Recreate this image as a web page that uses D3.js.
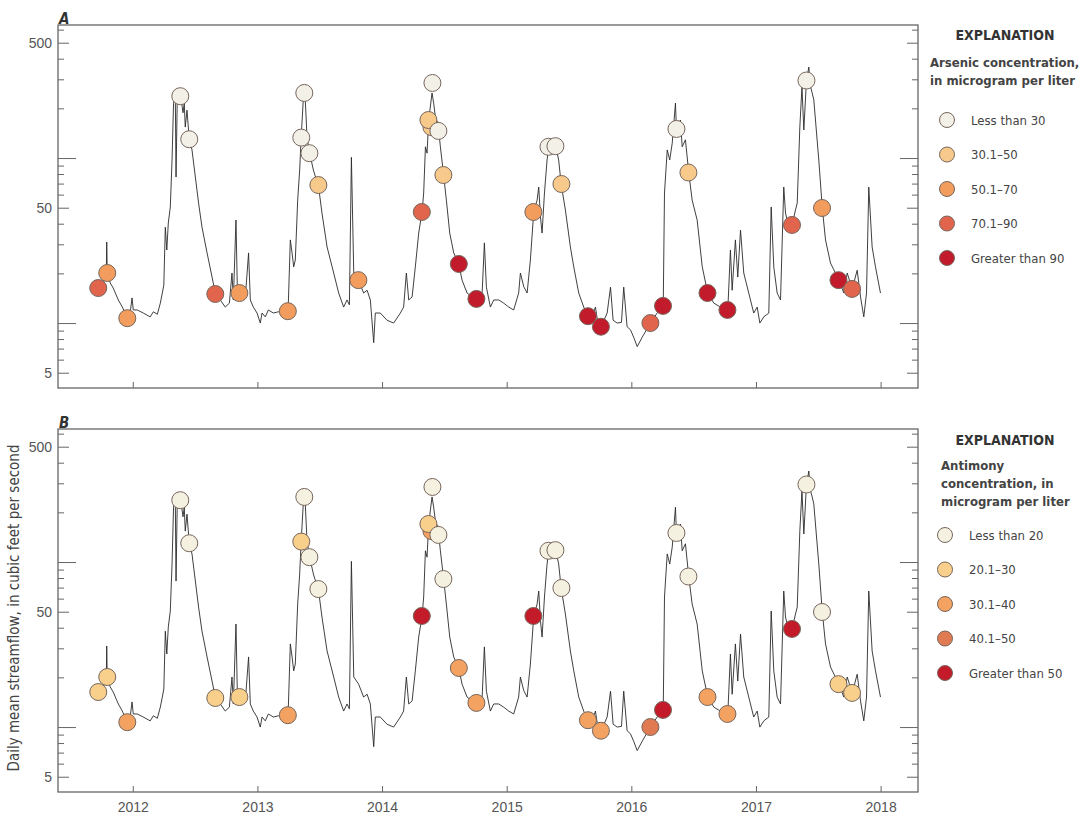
<!DOCTYPE html>
<html>
<head>
<meta charset="utf-8">
<script src="https://cdn.jsdelivr.net/npm/d3@7"></script>
<style>
  body { margin: 0; background: #fff; }
  svg { display: block; font-family: "Liberation Sans Narrow", "DejaVu Sans Condensed", "Roboto Condensed", sans-serif; }
</style>
</head>
<body>
<svg id="chart" width="1086" height="818"></svg>
<script>
// daily mean streamflow, cfs
var streamflow = [
  [2011.691,17.0],[2011.723,16.3],[2011.763,17.7],[2011.787,18.7],[2011.791,31.0],[2011.795,20.1],[2011.819,17.5],[2011.843,16.3],
  [2011.884,13.8],[2011.916,12.5],[2011.956,10.7],[2011.980,11.7],[2011.994,14.2],[2012.004,12.0],[2012.036,12.0],[2012.084,11.5],
  [2012.140,10.9],[2012.165,11.7],[2012.197,11.3],[2012.221,13.2],[2012.237,15.2],[2012.249,17.0],[2012.261,38.1],[2012.273,27.7],
  [2012.285,40.4],[2012.301,50.5],[2012.315,97],[2012.327,215],[2012.341,248],[2012.347,76.7],[2012.357,234],[2012.381,248],
  [2012.403,188],[2012.413,215],[2012.421,154],[2012.435,195],[2012.453,130],[2012.475,112],[2012.502,76.7],[2012.528,53.3],
  [2012.555,38.2],[2012.596,26.6],[2012.636,19.0],[2012.662,15.2],[2012.702,13.8],[2012.742,12.5],[2012.775,13.2],[2012.796,20.1],
  [2012.807,13.8],[2012.828,42.1],[2012.839,15.8],[2012.863,15.2],[2012.903,14.4],[2012.929,26.6],[2012.943,13.8],[2012.967,12.5],
  [2012.997,11.5],[2013.023,10.0],[2013.037,11.5],[2013.063,10.9],[2013.088,12.0],[2013.128,11.5],[2013.168,11.7],[2013.208,11.7],
  [2013.246,11.8],[2013.264,31.9],[2013.278,26.6],[2013.291,21.9],[2013.304,24.1],[2013.323,55.6],[2013.339,84.6],[2013.350,129],
  [2013.371,248],[2013.384,225],[2013.398,134],[2013.419,107],[2013.449,84.6],[2013.491,66.7],[2013.518,46.4],[2013.559,28.9],
  [2013.612,20.1],[2013.652,15.2],[2013.692,12.5],[2013.719,13.8],[2013.738,12.9],[2013.754,101],[2013.773,20.1],[2013.812,18.2],
  [2013.852,15.2],[2013.880,15.8],[2013.906,13.8],[2013.933,7.6],[2013.946,11.5],[2013.986,11.5],[2014.040,10.4],[2014.093,10.0],
  [2014.147,11.5],[2014.173,12.5],[2014.195,20.1],[2014.214,13.8],[2014.241,14.4],[2014.267,21.9],[2014.294,35.1],[2014.321,47.1],
  [2014.334,61.4],[2014.348,117],[2014.361,107],[2014.374,170],[2014.401,248],[2014.414,215],[2014.428,177],[2014.454,148],
  [2014.468,117],[2014.494,78.9],[2014.516,55.6],[2014.543,35.1],[2014.575,26.6],[2014.615,22.8],[2014.642,18.2],[2014.682,15.2],
  [2014.722,14.4],[2014.757,14.0],[2014.803,15.2],[2014.821,30.6],[2014.837,16.5],[2014.869,12.5],[2014.896,13.8],[2014.936,13.8],
  [2014.976,13.2],[2015.016,12.5],[2015.056,12.0],[2015.096,15.2],[2015.110,20.1],[2015.137,16.6],[2015.164,15.2],[2015.190,24.1],
  [2015.217,47.1],[2015.244,55.6],[2015.257,66.7],[2015.271,43.9],[2015.284,35.1],[2015.303,61.4],[2015.324,97.3],[2015.337,117],
  [2015.391,120],[2015.417,97.3],[2015.437,69.6],[2015.471,48.4],[2015.511,28.9],[2015.538,21.9],[2015.578,15.2],[2015.618,12.5],
  [2015.650,11.0],[2015.686,10.9],[2015.712,12.5],[2015.728,10.4],[2015.758,9.5],[2015.806,11.5],[2015.833,16.5],[2015.854,10.4],
  [2015.886,10.0],[2015.921,10.1],[2015.939,16.5],[2015.966,9.5],[2015.993,9.1],[2016.019,8.2],[2016.047,7.2],[2016.087,8.2],
  [2016.153,10.0],[2016.207,11.5],[2016.256,12.7],[2016.266,61.4],[2016.288,112],[2016.308,97.3],[2016.328,123],[2016.354,215],
  [2016.362,150],[2016.394,170],[2016.408,117],[2016.434,129],[2016.461,81.1],[2016.488,55.6],[2016.528,42.1],[2016.569,21.9],
  [2016.613,15.2],[2016.662,13.2],[2016.715,12.5],[2016.774,12.0],[2016.795,27.7],[2016.809,15.8],[2016.835,31.9],[2016.854,19.0],
  [2016.876,36.6],[2016.902,20.1],[2016.942,15.2],[2016.982,11.5],[2017.010,12.5],[2017.031,10.0],[2017.063,10.9],[2017.103,11.5],
  [2017.122,50.5],[2017.143,21.9],[2017.170,15.2],[2017.197,13.8],[2017.223,66.7],[2017.237,46.4],[2017.263,38.1],[2017.290,39.3],
  [2017.317,48.4],[2017.331,53.3],[2017.352,154],[2017.369,270],[2017.384,148],[2017.405,293],[2017.424,356],[2017.438,270],
  [2017.451,248],[2017.464,225],[2017.504,97.3],[2017.532,49.8],[2017.558,31.9],[2017.598,23.1],[2017.665,18.2],[2017.705,15.2],
  [2017.732,20.1],[2017.772,16.1],[2017.812,20.9],[2017.839,14.4],[2017.865,10.9],[2017.887,15.2],[2017.905,66.7],[2017.932,28.9],
  [2017.959,21.9],[2017.999,15.2]
];

// water-quality samples: date, streamflow at sampling, concentration class
var sampleYears = [2011.723, 2011.795, 2011.956, 2012.381, 2012.453, 2012.662, 2012.855, 2013.244, 2013.376, 2013.352,
  2013.417, 2013.489, 2013.810, 2014.319, 2014.404, 2014.396, 2014.372, 2014.452, 2014.492, 2014.616,
  2014.757, 2015.214, 2015.335, 2015.391, 2015.439, 2015.652, 2015.756, 2016.153, 2016.254, 2016.362,
  2016.458, 2016.611, 2016.771, 2017.289, 2017.405, 2017.530, 2017.662, 2017.771];
var sampleFlows = [16.3, 20.1, 10.7, 237, 130, 15.0, 15.2, 11.8, 248, 133,
  107, 68.6, 18.2, 47.1, 285, 154, 170, 146, 78.9, 22.8,
  14.0, 47.1, 117, 118, 69.6, 11.0, 9.5, 10.0, 12.7, 150,
  81.7, 15.2, 12.0, 39.3, 295, 49.8, 18.2, 16.1];
var arsenicClass = [3, 2, 2, 0, 0, 3, 2, 2, 0, 0,
  0, 1, 2, 3, 0, 1, 1, 0, 1, 4,
  4, 2, 0, 0, 1, 4, 4, 3, 4, 0,
  1, 4, 4, 3, 0, 2, 4, 3];
var antimonyClass = [1, 1, 2, 0, 0, 1, 1, 2, 0, 1,
  0, 0, null, 4, 0, 2, 1, 0, 0, 2,
  2, 4, 0, 0, 0, 2, 2, 3, 4, 0,
  0, 2, 2, 4, 0, 0, 1, 1];

var arsenicLabels = ["Less than 30", "30.1\u201350", "50.1\u201370", "70.1\u201390", "Greater than 90"];
var antimonyLabels = ["Less than 20", "20.1\u201330", "30.1\u201340", "40.1\u201350", "Greater than 50"];
var yearTicks = [2012, 2013, 2014, 2015, 2016, 2017, 2018];
var yLabelTicks = [5, 50, 500];
var yMajorTicks = [10, 100];
var yMinorTicks = [6, 7, 8, 9, 20, 30, 40, 60, 70, 80, 90, 200, 300, 400, 600];

var arsenicColors = ["#f3f0e8", "#f7c98b", "#f29d5e", "#e0654c", "#c21b2b"];
var antimonyColors = ["#f4f1e0", "#f8cf8b", "#f4a262", "#df7a52", "#c41b2b"];

var svg = d3.select("#chart");
var left = 58, right = 918;

var x = d3.scaleLinear().domain([2011.4, 2018.3]).range([left, right]);

var panels = [
  {top: 25, bottom: 388, letter: "A", cls: arsenicClass, colors: arsenicColors, labels: arsenicLabels, yearLabels: false},
  {top: 429, bottom: 792, letter: "B", cls: antimonyClass, colors: antimonyColors, labels: antimonyLabels, yearLabels: true}
];

panels.forEach(function(p) {
  var y = d3.scaleLog().domain([4.04, 640]).range([p.bottom, p.top]);
  var g = svg.append("g");

  // y ticks, inward on both sides
  function ticks(vals, len) {
    g.append("g").attr("transform", "translate(" + left + ",0)")
      .call(d3.axisRight(y).tickValues(vals).tickSize(len).tickFormat(""));
    g.append("g").attr("transform", "translate(" + right + ",0)")
      .call(d3.axisLeft(y).tickValues(vals).tickSize(len).tickFormat(""));
  }
  ticks(yMinorTicks, 6);
  ticks(yLabelTicks, 11);
  ticks(yMajorTicks, 18);

  g.append("g").attr("class", "ylab").attr("transform", "translate(" + left + ",0)")
    .call(d3.axisLeft(y).tickValues(yLabelTicks).tickSize(0).tickPadding(6).tickFormat(d3.format("d")));

  // year ticks, inward
  g.append("g").attr("transform", "translate(0," + p.bottom + ")")
    .call(d3.axisTop(x).tickValues(yearTicks).tickSize(6).tickFormat(""));
  if (p.yearLabels) {
    g.append("g").attr("class", "xlab").attr("transform", "translate(0," + p.bottom + ")")
      .call(d3.axisBottom(x).tickValues(yearTicks).tickSize(0).tickPadding(10).tickFormat(d3.format("d")));
  }

  g.selectAll(".domain").remove();
  g.selectAll(".tick line").attr("stroke", "#666").attr("stroke-width", 1);
  g.selectAll(".tick text").attr("fill", "#555").style("font-size", "14px").style("font-family", null);

  // frame
  g.append("rect").attr("x", left).attr("y", p.top).attr("width", right - left).attr("height", p.bottom - p.top)
    .attr("fill", "none").attr("stroke", "#666").attr("stroke-width", 1.3);

  // hydrograph
  var line = d3.line().x(function(d) { return x(d[0]); }).y(function(d) { return y(d[1]); });
  g.append("path").datum(streamflow).attr("d", line)
    .attr("fill", "none").attr("stroke", "#2a2a2a").attr("stroke-width", 0.9).attr("stroke-linejoin", "round");

  // sample circles
  var pts = sampleYears.map(function(t, i) { return {t: t, q: sampleFlows[i], c: p.cls[i]}; })
    .filter(function(d) { return d.c !== null; });
  g.selectAll("circle.s").data(pts).enter().append("circle").attr("class", "s")
    .attr("cx", function(d) { return x(d.t); })
    .attr("cy", function(d) { return y(d.q); })
    .attr("r", 8.5)
    .attr("fill", function(d) { return p.colors[d.c]; })
    .attr("stroke", "#76665c").attr("stroke-width", 1);

  // panel letter
  svg.append("text").attr("x", 59).attr("y", p.top - 1).text(p.letter)
    .attr("font-weight", "bold").attr("font-style", "italic").attr("font-size", 15).attr("fill", "#333");
});

// legends
function legend(x0, titleY, headX, headLines, headY, itemY, labels, colors) {
  var lg = svg.append("g");
  lg.append("text").attr("x", 1005).attr("y", titleY).attr("text-anchor", "middle")
    .attr("font-weight", "bold").attr("font-size", 14).attr("fill", "#333").text("EXPLANATION");
  headLines.forEach(function(s, i) {
    lg.append("text").attr("x", headX).attr("y", headY + i * 18).attr("font-weight", "bold")
      .attr("font-size", 13).attr("fill", "#444").text(s);
  });
  labels.forEach(function(s, i) {
    var cy = itemY + i * 34.5;
    lg.append("circle").attr("cx", x0).attr("cy", cy).attr("r", 7.5)
      .attr("fill", colors[i]).attr("stroke", "#76665c").attr("stroke-width", 1);
    lg.append("text").attr("x", x0 + 24).attr("y", cy + 4.5).attr("font-size", 13).attr("fill", "#444").text(s);
  });
}
legend(947, 40, 930, ["Arsenic concentration,", "in microgram per liter"], 67, 120, arsenicLabels, arsenicColors);
legend(945, 445, 941, ["Antimony", "concentration, in", "microgram per liter"], 470, 535, antimonyLabels, antimonyColors);

// shared y-axis title
svg.append("text").attr("transform", "translate(19,608) rotate(-90)").attr("text-anchor", "middle")
  .attr("font-size", 15).attr("fill", "#444").text("Daily mean streamflow, in cubic feet per second");
</script>
</body>
</html>
